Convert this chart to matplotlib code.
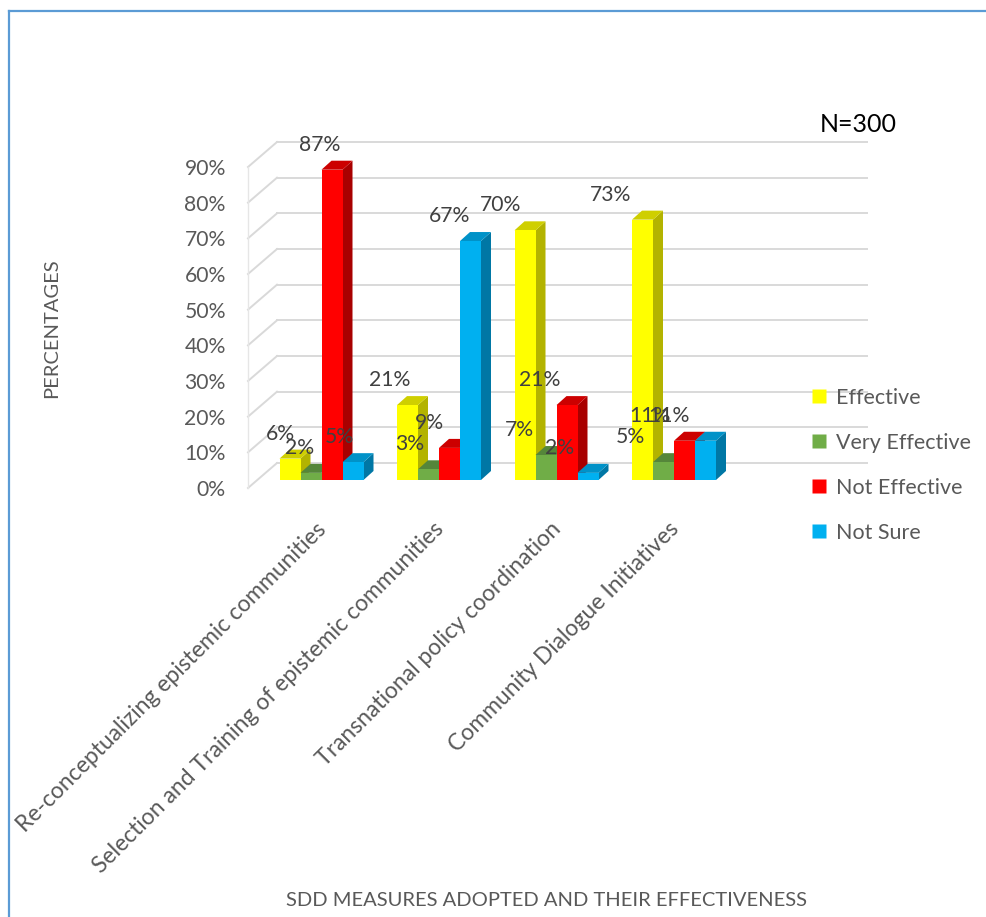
import matplotlib
matplotlib.use("Agg")
import matplotlib.pyplot as plt
from matplotlib.patches import Polygon
from matplotlib.lines import Line2D
from matplotlib.transforms import ScaledTranslation

plt.rcParams['font.family'] = ['Lato', 'DejaVu Sans']

# data
categories = ["Re-conceptualizing epistemic communities",
              "Selection and Training of epistemic communities",
              "Transnational policy coordination",
              "Community Dialogue Initiatives"]
series = ["Effective", "Very Effective", "Not Effective", "Not Sure"]
effective = [6, 21, 70, 73]
very_effective = [2, 3, 7, 5]
not_effective = [87, 9, 21, 11]
not_sure = [5, 67, 2, 11]
values = [effective, very_effective, not_effective, not_sure]
yticks = [0, 10, 20, 30, 40, 50, 60, 70, 80, 90]

# colours: front, top, side
front = ['#FFFF00', '#70AD47', '#FF0000', '#00B0F0']
top = ['#CFCF00', '#55863A', '#CC0000', '#0092C8']
side = ['#B3B300', '#4A7530', '#A80000', '#0077A5']

W, H, DPI = 986, 917, 100
fig = plt.figure(figsize=(W / DPI, H / DPI), dpi=DPI)

# plot area in pixels (front plane)
left_px, right_px, y0_px, y90_px = 248, 838, 488, 167
ppx = 117.5                      # pixels per category
ppy = (y0_px - y90_px) / 90.0    # pixels per percent
xmin = -(312.5 - left_px) / ppx
xmax = xmin + (right_px - left_px) / ppx

ax = fig.add_axes([left_px / W, (H - y0_px) / H,
                   (right_px - left_px) / W, (y0_px - y90_px) / H])
ax.set_xlim(xmin, xmax)
ax.set_ylim(0, 90)
for s in ax.spines.values():
    s.set_visible(False)


def ox(px):
    return px / ppx


def oy(px):
    return px / ppy


# walls: back wall at depth (29, 25) px
wx, wy = ox(29), oy(25)
for v in yticks:
    ax.plot([xmin, xmin + wx], [v, v + wy], color='#d9d9d9', lw=1.4,
            clip_on=False, zorder=1)
    ax.plot([xmin + wx, xmax + wx], [v + wy, v + wy], color='#d9d9d9',
            lw=1.4, clip_on=False, zorder=1)
ax.plot([xmin, xmin], [0, 90], color='#e6e6e6', lw=1, clip_on=False, zorder=1)

# bars with a simple 3d look
bw = 21 / ppx
fx, fy = ox(9), oy(8)       # bar front face offset from front plane
dx, dy = ox(10), oy(9)      # bar depth
z = 2
x_first = -1.5 * bw
for c in range(len(categories)):
    for i, vals in enumerate(values):
        v = vals[c]
        xc = c + (i - 1.5) * bw
        xl, xr = xc - bw / 2 + fx, xc + bw / 2 + fx
        b = fy
        t = v + fy
        ax.add_patch(Polygon([(xr, b), (xr + dx, b + dy), (xr + dx, t + dy), (xr, t)],
                             closed=True, facecolor=side[i], edgecolor='none',
                             zorder=z, clip_on=False))
        ax.add_patch(Polygon([(xl, t), (xr, t), (xr + dx, t + dy), (xl + dx, t + dy)],
                             closed=True, facecolor=top[i], edgecolor='none',
                             zorder=z + 0.1, clip_on=False))
        ax.bar(xc + fx, v, bw, bottom=fy, color=front[i], edgecolor='none',
               zorder=z + 0.2, clip_on=False)
        z += 1
        lab_dx = -10 - 0.063 * ppx * (xc - x_first)
        ax.text(xc + fx + ox(lab_dx), t + oy(25), f"{v}%", ha='center',
                va='center', fontsize=15.2, color='#404040', zorder=100)

# axes ticks
ax.set_yticks(yticks)
ax.set_yticklabels([f"{v}%" for v in yticks], fontsize=15.2, color='#595959')
ax.tick_params(axis='y', length=0, pad=16)
ax.set_xticks(range(len(categories)))
ax.set_xticklabels(categories, rotation=45, ha='right', va='top',
                   rotation_mode='anchor', fontsize=16.5, color='#595959')
ax.tick_params(axis='x', length=0, pad=22)
for lab in ax.get_xticklabels():
    lab.set_transform(lab.get_transform() +
                      ScaledTranslation(3 / DPI, 0, fig.dpi_scale_trans))

# titles
fig.text(546 / W, 1 - 900 / H, "SDD MEASURES ADOPTED AND THEIR EFFECTIVENESS",
         ha='center', va='center', fontsize=14.5, color='#595959')
fig.text(52 / W, 1 - 328 / H, "PERCENTAGES", rotation=90, ha='center',
         va='center', fontsize=14.5, color='#595959')
fig.text(858 / W, 1 - 124 / H, "N=300", ha='center', va='center',
         fontsize=18, color='black')

# legend
handles = [Line2D([], [], marker='s', linestyle='none', markersize=9.5,
                  markerfacecolor=front[i], markeredgecolor='none')
           for i in range(len(series))]
fig.legend(handles, series, loc='upper left',
           bbox_to_anchor=(800 / W, 1 - 377 / H), frameon=False,
           fontsize=15.5, labelcolor='#595959', labelspacing=1.16,
           handlelength=0.8, handletextpad=0.35, borderpad=0)

# outer frame (left and top edges visible)
fig.add_artist(Line2D([9 / W, 9 / W], [0, 1 - 11 / H], color='#5B9BD5', lw=1.6))
fig.add_artist(Line2D([9 / W, 1], [1 - 11 / H, 1 - 11 / H], color='#5B9BD5', lw=1.6))

fig.savefig("out.png", dpi=DPI)
